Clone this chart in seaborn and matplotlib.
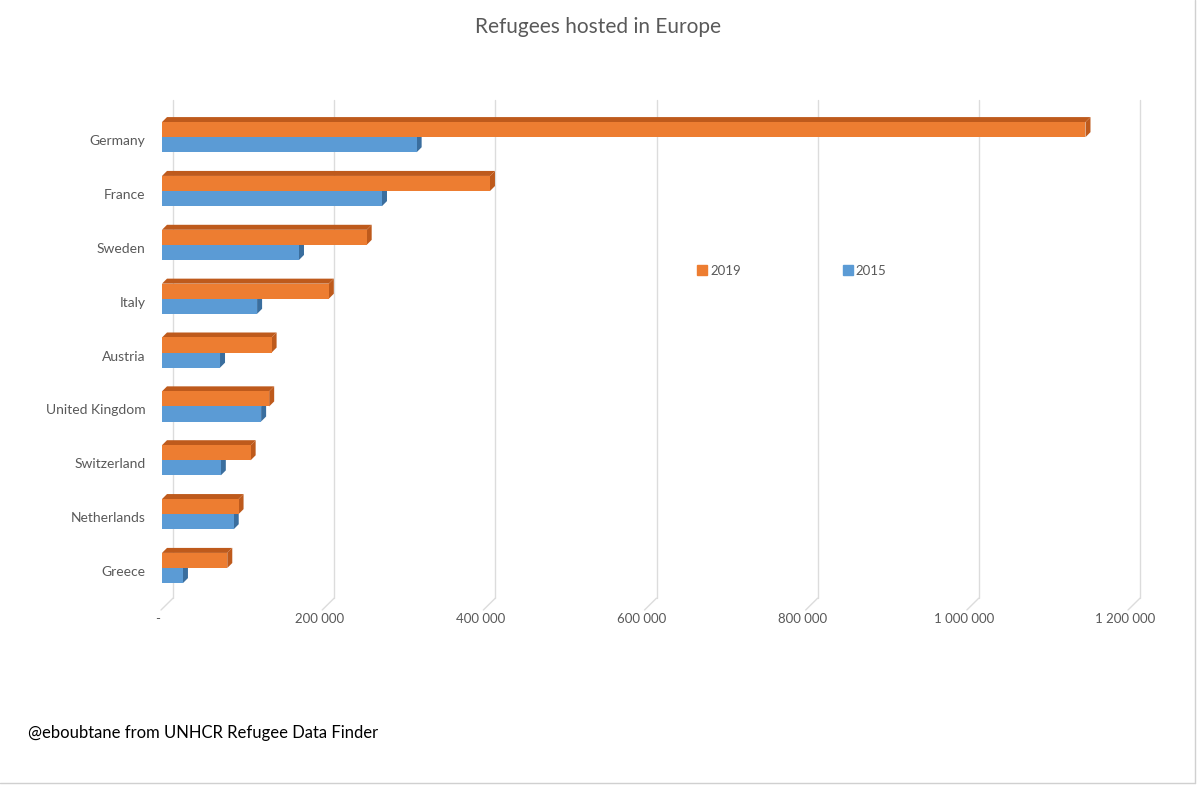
import matplotlib
matplotlib.use("Agg")
import pandas as pd
import seaborn as sns
import matplotlib.pyplot as plt
from matplotlib.patches import Polygon
from matplotlib.lines import Line2D
from matplotlib.transforms import ScaledTranslation
from matplotlib.ticker import FuncFormatter

# data
countries = ['Germany', 'France', 'Sweden', 'Italy', 'Austria',
             'United Kingdom', 'Switzerland', 'Netherlands', 'Greece']
refugees_2019 = [1146000, 407000, 254000, 207000, 136000, 133000, 110000, 95000, 81000]
refugees_2015 = [316000, 273000, 170000, 118000, 72000, 123000, 73000, 89000, 26000]
years = ['2019', '2015']

df = pd.DataFrame({
    'country': countries * 2,
    'year': ['2019'] * len(countries) + ['2015'] * len(countries),
    'value': refugees_2019 + refugees_2015,
})

front = {'2019': '#ED7D31', '2015': '#5B9BD5'}
dark = {'2019': '#BE5A1C', '2015': '#3A6E9E'}
grey = '#595959'

sns.set_theme(style='white')
plt.rcParams['font.family'] = ['Lato', 'DejaVu Sans']

fig = plt.figure(figsize=(12, 7.86), dpi=100)
ax = fig.add_axes([162 / 1200, (786 - 610) / 786, 967 / 1200, 510 / 786])

sns.barplot(data=df, y='country', x='value', hue='year', hue_order=years,
            palette=front, orient='h', width=0.56, saturation=1,
            linewidth=0, legend=False, ax=ax, zorder=3)

ax.set_xlim(0, 1200000)
ax.set_ylim(8.78, -0.69)

# pixel -> data size of the fake depth
px_x = 1200000 / 967
px_y = 9.47 / 510
dx, dy = 5 * px_x, 5 * px_y

# 3D look: top and right faces on every bar
for i, cont in enumerate(ax.containers):
    yr = years[i]
    for p in cont:
        p.set_zorder(5 if yr == '2019' else 3)
        p.set_edgecolor('none')
        x0, y0, w, h = p.get_x(), p.get_y(), p.get_width(), p.get_height()
        x1 = x0 + w
        top = Polygon([(x0, y0), (x1, y0), (x1 + dx, y0 - dy), (x0 + dx, y0 - dy)],
                      closed=True, fc=dark[yr], ec='none', zorder=4 if yr == '2019' else 2)
        side = Polygon([(x1, y0), (x1 + dx, y0 - dy), (x1 + dx, y0 + h - dy), (x1, y0 + h)],
                       closed=True, fc=dark[yr], ec='none', zorder=4 if yr == '2019' else 2)
        ax.add_patch(top)
        ax.add_patch(side)

# back wall grid lines with a slanted floor edge
ticks = [0, 200000, 400000, 600000, 800000, 1000000, 1200000]
back = ax.transData + ScaledTranslation(0.11, 0, fig.dpi_scale_trans)
for t in ticks:
    ax.plot([t, t], [-0.69, 8.56], color='#DCDCDC', lw=1.0, transform=back,
            zorder=1, clip_on=False)
    ax.plot([t + 11 * px_x, t - 1 * px_x], [8.56, 8.78], color='#DCDCDC', lw=1.0,
            zorder=1, clip_on=False)

for s in ax.spines.values():
    s.set_visible(False)

ax.set_xticks(ticks)
ax.xaxis.set_major_formatter(FuncFormatter(
    lambda v, pos: '-' if v == 0 else f'{int(v):,}'.replace(',', ' ')))
ax.tick_params(axis='x', length=0, pad=2, labelsize=9.5, labelcolor=grey)
ax.tick_params(axis='y', length=0, pad=12, labelsize=10, labelcolor=grey)
ax.set_xlabel('')
ax.set_ylabel('')

# small nudges so the labels sit like in the original
for lab in ax.get_xticklabels():
    lab.set_transform(lab.get_transform() + ScaledTranslation(-0.04, 0, fig.dpi_scale_trans))
for lab in ax.get_yticklabels():
    lab.set_transform(lab.get_transform() + ScaledTranslation(0, -0.03, fig.dpi_scale_trans))

handles = [Line2D([], [], marker='s', ls='none', color=front[y], markersize=7) for y in years]
ax.legend(handles, years, loc='center left', bbox_to_anchor=((684 - 162) / 967, (610 - 271) / 510),
          ncol=2, frameon=False, columnspacing=7.6, handletextpad=0.1, handlelength=1,
          prop={'size': 9.5}, labelcolor=grey)

fig.text(0.498, 1 - 27 / 786, 'Refugees hosted in Europe', ha='center', va='center',
         fontsize=15, color=grey)
fig.text(28 / 1200, 1 - 733 / 786, '@eboubtane from UNHCR Refugee Data Finder',
         ha='left', va='center', fontsize=12, color='black')

# thin frame at the right and bottom edge of the picture
fig.add_artist(Line2D([0, 1195 / 1200], [3 / 786, 3 / 786], color='#D0D0D0', lw=1))
fig.add_artist(Line2D([1195 / 1200, 1195 / 1200], [3 / 786, 1], color='#D0D0D0', lw=1))

fig.savefig('out.png', dpi=100)
